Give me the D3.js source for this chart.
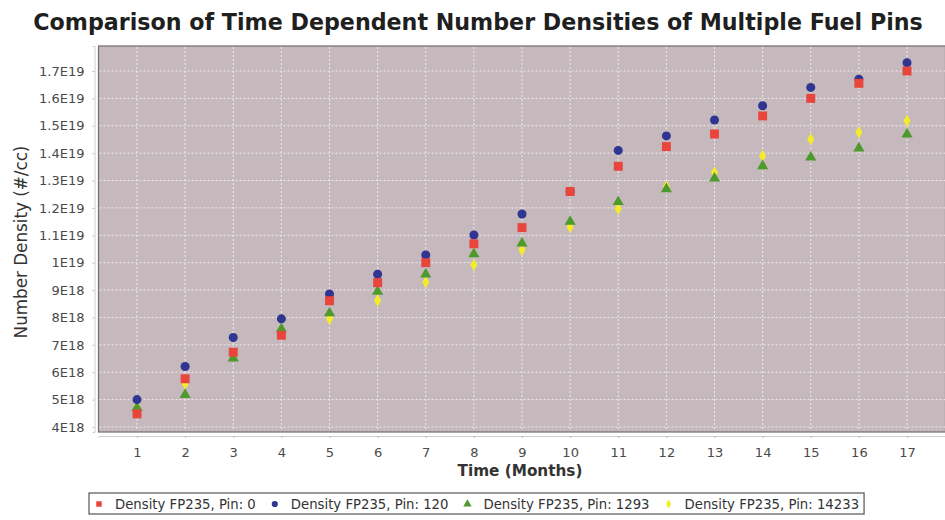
<!DOCTYPE html>
<html>
<head>
<meta charset="utf-8">
<script src="https://cdn.jsdelivr.net/npm/d3@7"></script>
<style>
  body { margin: 0; background: #fff; }
  text { font-family: "DejaVu Sans", Verdana, sans-serif; }
</style>
</head>
<body>
<div id="chart"></div>
<script>
// Data (number densities in #/cc)
const months = [1, 2, 3, 4, 5, 6, 7, 8, 9, 10, 11, 12, 13, 14, 15, 16, 17];
const pin0 = [4.48e18, 5.76e18, 6.73e18, 7.35e18, 8.61e18, 9.27e18, 1.0e19, 1.069e19, 1.128e19, 1.26e19, 1.352e19, 1.424e19, 1.47e19, 1.536e19, 1.6e19, 1.655e19, 1.70e19];
const pin120 = [5.0e18, 6.21e18, 7.27e18, 7.95e18, 8.86e18, 9.58e18, 1.028e19, 1.101e19, 1.178e19, 1.26e19, 1.41e19, 1.463e19, 1.521e19, 1.573e19, 1.64e19, 1.67e19, 1.73e19];
const pin1293 = [4.7e18, 5.18e18, 6.51e18, 7.58e18, 8.16e18, 8.95e18, 9.58e18, 1.032e19, 1.071e19, 1.15e19, 1.222e19, 1.269e19, 1.308e19, 1.353e19, 1.385e19, 1.418e19, 1.469e19];
const pin14233 = [4.75e18, 5.58e18, 6.6e18, 7.45e18, 7.95e18, 8.62e18, 9.29e18, 9.92e18, 1.047e19, 1.13e19, 1.197e19, 1.278e19, 1.329e19, 1.39e19, 1.451e19, 1.476e19, 1.518e19];
const seriesNames = ["Density FP235, Pin: 0", "Density FP235, Pin: 120", "Density FP235, Pin: 1293", "Density FP235, Pin: 14233"];
const yTicks = [4e18, 5e18, 6e18, 7e18, 8e18, 9e18, 1e19, 1.1e19, 1.2e19, 1.3e19, 1.4e19, 1.5e19, 1.6e19, 1.7e19];

// Chart params
const svgWidth = 945;
const svgHeight = 520;
const plot = { left: 98.5, top: 46, right: 945.5, bottom: 432 };

const colors = ["#e8453c", "#2f3590", "#4f9a2c", "#f3ec2c"];
const shapes = [d3.symbolSquare, d3.symbolCircle, d3.symbolTriangle, d3.symbolDiamond];
const sizes = [80, 64, 54, 44];

const series = [pin0, pin120, pin1293, pin14233].map((vals, i) => ({
  name: seriesNames[i],
  index: i,
  points: months.map((m, j) => ({ x: m, y: vals[j] }))
}));

const svg = d3.select("#chart")
  .append("svg")
  .attr("width", svgWidth)
  .attr("height", svgHeight);

// scales
const xScale = d3.scaleLinear()
  .domain([0.2, 17.8])
  .range([plot.left, plot.right]);

const yScale = d3.scaleLinear()
  .domain([3.817e18, 1.7913e19])
  .range([plot.bottom, plot.top]);

// E-notation like 1.7E19, 1E19, 9E18
function sciFormat(v) {
  const exp = Math.floor(Math.log10(v) + 1e-9);
  const mant = Math.round(v / Math.pow(10, exp) * 10) / 10;
  return `${mant}E${exp}`;
}

// fit a text element to a target width by changing its font size
function fitText(sel, target) {
  const fs = parseFloat(sel.attr("font-size"));
  const len = sel.node().getComputedTextLength();
  sel.attr("font-size", fs * target / len);
}

// title
const title = svg.append("text")
  .attr("x", 478)
  .attr("y", 30)
  .attr("text-anchor", "middle")
  .attr("font-size", 22)
  .attr("font-weight", "bold")
  .attr("fill", "#1f1f1f")
  .text("Comparison of Time Dependent Number Densities of Multiple Fuel Pins");
fitText(title, 890);

// plot background
svg.append("rect")
  .attr("x", plot.left)
  .attr("y", plot.top)
  .attr("width", plot.right - plot.left)
  .attr("height", plot.bottom - plot.top)
  .attr("fill", "#c5b9bd")
  .attr("stroke", "#6e6e6e")
  .attr("stroke-width", 1.2);

// gridlines
const grid = svg.append("g");
grid.selectAll(".vgrid")
  .data(months)
  .enter()
  .append("line")
  .attr("x1", d => xScale(d))
  .attr("x2", d => xScale(d))
  .attr("y1", plot.top + 1)
  .attr("y2", plot.bottom - 1)
  .attr("stroke", "#f6f3f4")
  .attr("stroke-dasharray", "2,2")
  .attr("stroke-opacity", 0.85);
grid.selectAll(".hgrid")
  .data(yTicks)
  .enter()
  .append("line")
  .attr("x1", plot.left + 1)
  .attr("x2", plot.right)
  .attr("y1", d => yScale(d))
  .attr("y2", d => yScale(d))
  .attr("stroke", "#f6f3f4")
  .attr("stroke-dasharray", "2,2")
  .attr("stroke-opacity", 0.85);

// axes (offset a little from the plot, like the original)
const bottomAxis = d3.axisBottom(xScale)
  .tickValues(months)
  .tickFormat(d3.format("d"))
  .tickSize(2)
  .tickPadding(10);
const leftAxis = d3.axisLeft(yScale)
  .tickValues(yTicks)
  .tickFormat(sciFormat)
  .tickSize(2)
  .tickPadding(8);

const xAxis = svg.append("g")
  .attr("transform", `translate(0, ${plot.bottom + 4})`)
  .call(bottomAxis);
const yAxis = svg.append("g")
  .attr("transform", `translate(${plot.left - 4}, 0)`)
  .call(leftAxis);

[xAxis, yAxis].forEach(ax => {
  ax.select(".domain").attr("stroke", "#cfcfcf");
  ax.selectAll(".tick line").attr("stroke", "#bdbdbd");
  ax.selectAll(".tick text")
    .attr("font-size", 13)
    .attr("fill", "#4a4a4a")
    .style("font-family", "'DejaVu Sans', Verdana, sans-serif");
});

// axis titles
const xLabel = svg.append("text")
  .attr("x", 520)
  .attr("y", 476)
  .attr("text-anchor", "middle")
  .attr("font-size", 14)
  .attr("font-weight", "bold")
  .attr("fill", "#333")
  .text("Time (Months)");
fitText(xLabel, 125);

const yLabel = svg.append("text")
  .attr("transform", `translate(27, 242) rotate(-90)`)
  .attr("text-anchor", "middle")
  .attr("font-size", 15)
  .attr("fill", "#333")
  .text("Number Density (#/cc)");
fitText(yLabel, 193);

// markers, last series drawn first so Pin 0 ends up on top
const markGroup = svg.append("g");
series.slice().reverse().forEach(s => {
  markGroup.selectAll(`.s${s.index}`)
    .data(s.points)
    .enter()
    .append("path")
    .classed(`s${s.index}`, true)
    .attr("transform", d => `translate(${xScale(d.x)}, ${yScale(d.y)})`)
    .attr("d", d3.symbol().type(shapes[s.index]).size(sizes[s.index]))
    .attr("fill", colors[s.index]);
});

// legend
const legend = svg.append("g");
const legendBox = legend.append("rect")
  .attr("x", 89)
  .attr("y", 493)
  .attr("height", 21)
  .attr("fill", "#fff")
  .attr("stroke", "#555")
  .attr("stroke-width", 1.2);

let lx = 99;
let legendFont = 12;
series.forEach((s, i) => {
  legend.append("path")
    .attr("transform", `translate(${lx}, 504)`)
    .attr("d", d3.symbol().type(shapes[i]).size(i === 3 ? 24 : 30))
    .attr("fill", colors[i]);
  const t = legend.append("text")
    .attr("x", lx + 16)
    .attr("y", 508.5)
    .attr("font-size", legendFont)
    .attr("fill", "#333")
    .text(s.name);
  if (i === 0) {
    fitText(t, 141);
    legendFont = parseFloat(t.attr("font-size"));
  }
  lx = lx + 16 + t.node().getComputedTextLength() + 19;
});
legendBox.attr("width", lx - 19 + 5 - 89);
</script>
</body>
</html>
